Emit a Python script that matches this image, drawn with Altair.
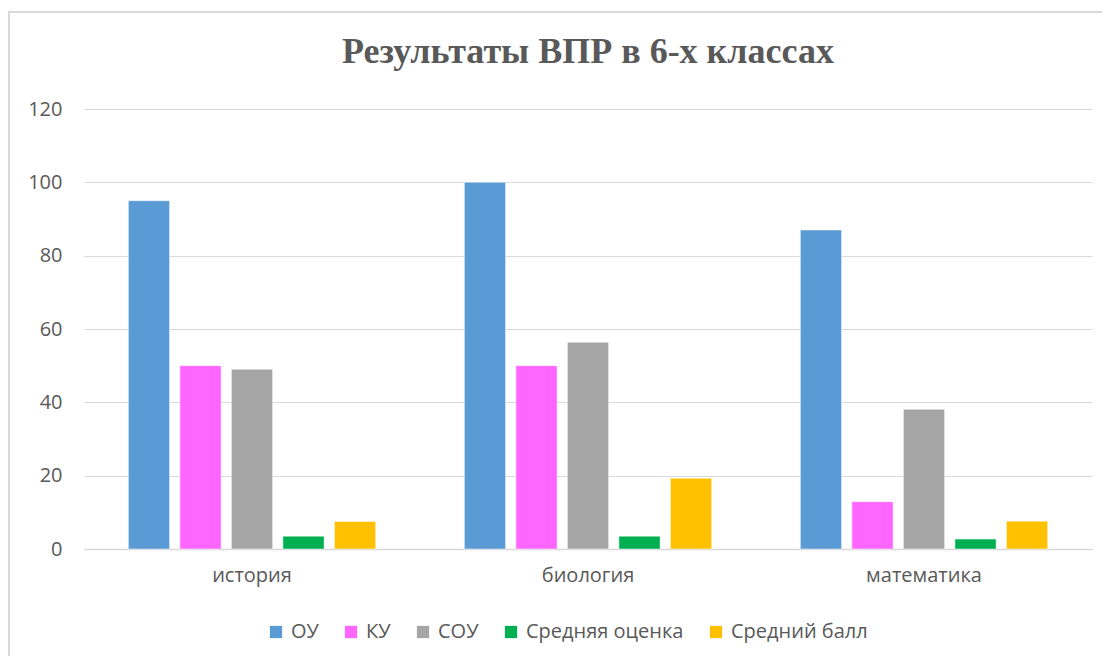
import altair as alt
import pandas as pd

subjects = ["история", "биология", "математика"]
series = ["ОУ", "КУ", "СОУ", "Средняя оценка", "Средний балл"]
colors = ["#5B9BD5", "#FF66FF", "#A5A5A5", "#00B050", "#FFC000"]

vals_ou = [95, 100, 87]
vals_ku = [50, 50, 12.9]
vals_sou = [49, 56.4, 38.1]
vals_avg_mark = [3.5, 3.5, 2.7]
vals_avg_score = [7.5, 19.3, 7.6]

all_vals = [vals_ou, vals_ku, vals_sou, vals_avg_mark, vals_avg_score]
rows = []
for s, vals in zip(series, all_vals):
    for subj, v in zip(subjects, vals):
        rows.append({"Предмет": subj, "Серия": s, "Значение": v})
df = pd.DataFrame(rows)

W, H = 1008, 440
FONT = "Open Sans"
GREY = "#595959"
FS = 20

bars = alt.Chart(df).mark_bar(stroke="white", strokeWidth=0.8, strokeOpacity=0.6).encode(
    x=alt.X("Предмет:N", sort=subjects, title=None,
            scale=alt.Scale(paddingInner=0.264, paddingOuter=0.132),
            axis=alt.Axis(labelAngle=0, labelFontSize=FS, labelFont=FONT, labelColor=GREY,
                          ticks=False, domainColor="#D9D9D9", domainWidth=1.5, labelPadding=16)),
    xOffset=alt.XOffset("Серия:N", sort=series, scale=alt.Scale(paddingInner=0.2)),
    y=alt.Y("Значение:Q", title=None,
            scale=alt.Scale(domain=[0, 120], nice=False),
            axis=alt.Axis(values=[0, 20, 40, 60, 80, 100, 120], labelFontSize=FS, labelFont=FONT,
                          labelColor=GREY, ticks=False, domain=False, gridColor="#D9D9D9",
                          gridWidth=1.2, labelPadding=22)),
    color=alt.Color("Серия:N", sort=series,
                    scale=alt.Scale(domain=series, range=colors),
                    legend=alt.Legend(title=None, orient="none", direction="horizontal",
                                      legendX=182, legendY=513,
                                      symbolType="square", symbolSize=150, symbolStrokeWidth=0,
                                      labelFontSize=FS, labelFont=FONT, labelColor=GREY,
                                      columnPadding=22, symbolOffset=0, labelOffset=5)),
)

border = alt.Chart(pd.DataFrame({"a": [0]})).mark_rect(
    fill=None, stroke="#D9D9D9", strokeWidth=2
).encode(
    x=alt.value(-75), x2=alt.value(W + 40), y=alt.value(-97), y2=alt.value(H + 120)
)

chart = alt.layer(border, bars).properties(
    width=W, height=H,
    title=alt.TitleParams("Результаты ВПР в 6-х классах", font="Liberation Serif",
                          fontSize=36, fontWeight="bold", color=GREY, anchor="middle",
                          frame="group", offset=-60),
    autosize=alt.AutoSizeParams(type="none"),
    padding={"left": 76, "top": 101, "right": 10, "bottom": 107},
).configure(background="white").configure_view(strokeWidth=0, stroke="transparent")

chart.save("out.html", embed_options={"renderer": "svg", "actions": False})
